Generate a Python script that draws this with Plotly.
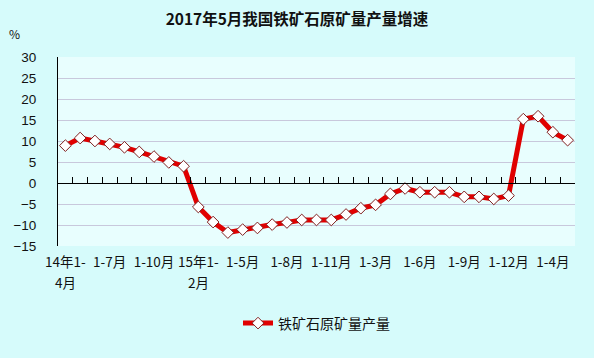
import plotly.graph_objects as go

categories = (
    ["2014年1-%d月" % m for m in range(4, 13)]
    + ["2015年1-%d月" % m for m in range(2, 13)]
    + ["2016年1-%d月" % m for m in range(2, 13)]
    + ["2017年1-%d月" % m for m in range(2, 6)]
)
growth = [
    8.9, 10.7, 10.0, 9.3, 8.5, 7.4, 6.3, 4.9, 4.0,
    -5.7, -9.3, -11.8, -11.1, -10.7, -9.9, -9.4, -8.8, -8.8, -8.8, -7.5,
    -6.0, -5.2, -2.6, -1.3, -2.2, -2.2, -2.2, -3.3, -3.3, -3.8, -3.0,
    15.2, 15.9, 12.1, 10.2,
]
tick_idx = [0, 3, 6, 9, 12, 15, 18, 21, 24, 27, 30, 33]
tick_text = ["14年1-", "1-7月", "1-10月", "15年1-", "1-5月", "1-8月",
             "1-11月", "1-3月", "1-6月", "1-9月", "1-12月", "1-4月"]
# second lines of the wrapped tick labels
wrap_idx = [0, 9]
wrap_text = ["4月", "2月"]
series_name = "铁矿石原矿量产量"
title_text = "2017年5月我国铁矿石原矿量产量增速"

fig = go.Figure()
fig.add_trace(go.Scatter(
    x=categories, y=growth, name=series_name, mode="lines+markers",
    line=dict(color="#e00000", width=5),
    marker=dict(symbol="diamond", size=9, color="white",
                line=dict(color="#802020", width=1)),
))
# invisible trace to drive the zero-line axis
fig.add_trace(go.Scatter(x=categories, y=growth, xaxis="x2", showlegend=False,
                         hoverinfo="skip", mode="lines", line=dict(width=0),
                         opacity=0))

annotations = [dict(text="%", x=(14 - 58) / 517, y=(246 - 33) / 189,
                    xref="paper", yref="paper", xanchor="center",
                    yanchor="middle", showarrow=False, font=dict(size=12))]
for i, t in zip(wrap_idx, wrap_text):
    annotations.append(dict(text=t, x=categories[i], xref="x",
                            y=(246 - 282) / 189, yref="paper",
                            xanchor="center", yanchor="middle",
                            showarrow=False, font=dict(size=13.5)))

fig.update_layout(
    width=594, height=358,
    margin=dict(l=58, r=19, t=57, b=112),
    paper_bgcolor="#d6fbfb",
    plot_bgcolor="#e8fefe",
    font=dict(family="Noto Sans CJK SC", size=12, color="#111111"),
    title=dict(text="<b>" + title_text + "</b>", x=0.5, xanchor="center",
               y=1 - 20 / 358, yanchor="middle", yref="container",
               font=dict(size=15.5, color="#111111")),
    showlegend=True,
    legend=dict(orientation="h", x=0.5, xanchor="center", y=-0.41,
                yanchor="middle", bgcolor="rgba(0,0,0,0)",
                font=dict(size=14)),
    xaxis=dict(type="category", range=[-0.5, 34.5], tickmode="array",
               tickvals=[categories[i] for i in tick_idx], ticktext=tick_text,
               showgrid=False, showline=False, ticks="", zeroline=False,
               tickfont=dict(size=13.5), tickangle=0, ticklabelstandoff=6),
    xaxis2=dict(type="category", overlaying="x", matches="x", anchor="free",
                position=1 / 3, side="bottom", showline=True, linecolor="black",
                linewidth=1, ticks="inside", tickson="boundaries", ticklen=6,
                tickmode="linear", tick0=0, dtick=1,
                tickcolor="black", showticklabels=False, showgrid=False,
                range=[-0.5, 34.5]),
    yaxis=dict(range=[-15, 30], dtick=5, showgrid=True, gridcolor="#c8c8dc",
               gridwidth=1, zeroline=False, showline=True, linecolor="black",
               linewidth=1, ticks="", ticklabelstandoff=18,
               tickfont=dict(family="Liberation Sans", size=13.5)),
    annotations=annotations,
)
fig.write_html("out.html", config={"displayModeBar": False},
               post_script="document.body.style.margin='0';document.body.style.background='#d6fbfb';")
